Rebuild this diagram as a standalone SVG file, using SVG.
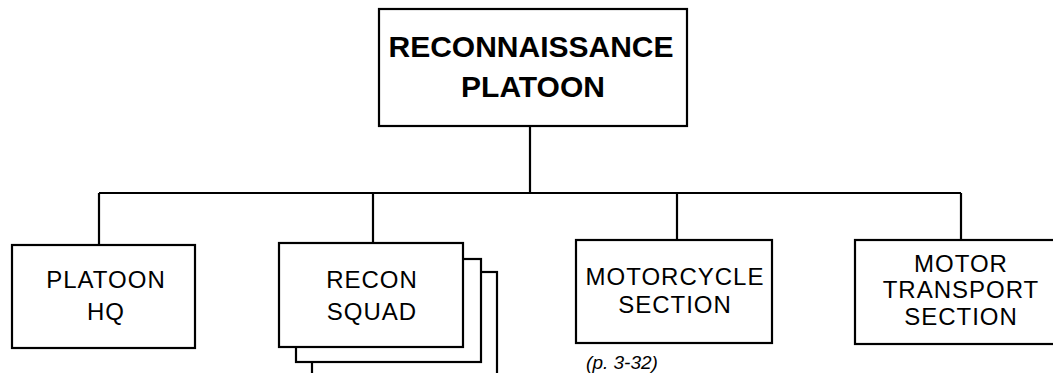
<svg xmlns="http://www.w3.org/2000/svg" width="1053" height="373" viewBox="0 0 1053 373">
<style>
.box{fill:#fff;stroke:#000;stroke-width:2.2}
.ln{fill:none;stroke:#000;stroke-width:2.2}
.t{font-family:"Liberation Sans",Arial,sans-serif;font-size:24px;letter-spacing:1px;text-anchor:middle;fill:#000}
.b{font-weight:bold;font-size:30px;letter-spacing:0}
.i{font-style:italic;font-size:19px;letter-spacing:0}
</style>
<rect width="1053" height="373" fill="#fff"/>
<g id="connectors">
<path class="ln" d="M530 126V193M99 193H961M99 193V245M373 193V243M677 193V240M961 193V240"/>
</g>
<g id="recon-platoon">
<rect class="box" x="379" y="9" width="308" height="117"/>
<text class="t b" x="531" y="57">RECONNAISSANCE</text>
<text class="t b" x="533" y="97">PLATOON</text>
</g>
<g id="platoon-hq">
<rect class="box" x="12" y="245" width="183" height="103"/>
<text class="t" x="106" y="288">PLATOON</text>
<text class="t" x="106" y="320">HQ</text>
</g>
<g id="recon-squad">
<rect class="box" x="312" y="272" width="185" height="110"/>
<rect class="box" x="296" y="259" width="185" height="103"/>
<rect class="box" x="279" y="243" width="184" height="104"/>
<text class="t" x="372" y="288">RECON</text>
<text class="t" x="372" y="320">SQUAD</text>
</g>
<g id="motorcycle-section">
<rect class="box" x="576" y="240" width="196" height="103"/>
<text class="t" x="675" y="285">MOTORCYCLE</text>
<text class="t" x="675" y="313">SECTION</text>
<text class="t i" x="622" y="369">(p. 3-32)</text>
</g>
<g id="motor-transport-section">
<rect class="box" x="855" y="240" width="210" height="104"/>
<text class="t" x="961" y="272">MOTOR</text>
<text class="t" x="961" y="298">TRANSPORT</text>
<text class="t" x="961" y="325">SECTION</text>
</g>
</svg>
